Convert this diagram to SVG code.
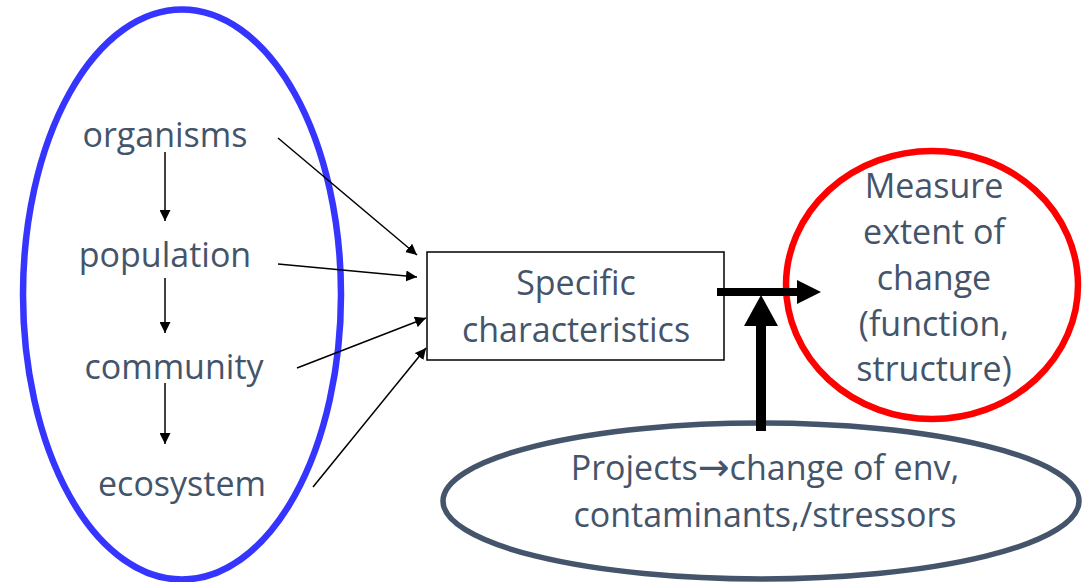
<svg xmlns="http://www.w3.org/2000/svg" width="1091" height="582" viewBox="0 0 1091 582">
<style>
.t{font-family:"Open Sans","Noto Sans",sans-serif;font-size:34px;fill:#44546A;text-anchor:middle}
.arr{font-family:"DejaVu Sans",sans-serif;font-size:38px}
.thin{stroke:#000;stroke-width:1.5;fill:none;marker-end:url(#ah)}
</style>
<defs>
<marker id="ah" markerUnits="userSpaceOnUse" markerWidth="11" markerHeight="11" refX="11" refY="5.5" orient="auto">
<path d="M0,0 L11,5.5 L0,11 z" fill="#000"/>
</marker>
</defs>
<rect width="1091" height="582" fill="#fff"/>
<g id="levels">
<ellipse cx="182" cy="294.5" rx="159" ry="285" fill="none" stroke="#3535FF" stroke-width="6.5"/>
<text class="t" x="165" y="147">organisms</text>
<text class="t" x="165" y="267">population</text>
<text class="t" x="174" y="379">community</text>
<text class="t" x="182" y="496">ecosystem</text>
</g>
<g id="characteristics">
<rect x="427" y="252" width="297" height="108" fill="#fff" stroke="#000" stroke-width="1.5"/>
<text class="t" x="576" y="295">Specific</text>
<text class="t" x="576" y="342">characteristics</text>
</g>
<g id="measure">
<ellipse cx="932" cy="285" rx="146" ry="134" fill="none" stroke="#FF0000" stroke-width="6.5"/>
<text class="t" x="934" y="198">Measure</text>
<text class="t" x="934" y="244">extent of</text>
<text class="t" x="934" y="290">change</text>
<text class="t" x="934" y="336">(function,</text>
<text class="t" x="934" y="381">structure)</text>
</g>
<g id="projects">
<ellipse cx="761" cy="501" rx="318" ry="78" fill="#fff" stroke="#44546A" stroke-width="5.5"/>
<text class="t" x="765" y="480">Projects<tspan class="arr">→</tspan>change of env,</text>
<text class="t" x="765" y="527">contaminants,/stressors</text>
</g>
<g id="connectors">
<line class="thin" x1="165" y1="152" x2="165" y2="221"/>
<line class="thin" x1="165" y1="278" x2="165" y2="333"/>
<line class="thin" x1="165" y1="383" x2="165" y2="444"/>
<line class="thin" x1="278" y1="138" x2="417" y2="255"/>
<line class="thin" x1="278" y1="264" x2="417" y2="277"/>
<line class="thin" x1="297" y1="368" x2="426" y2="318"/>
<line class="thin" x1="313" y1="487" x2="426" y2="348"/>
<line x1="717" y1="292" x2="800" y2="292" stroke="#000" stroke-width="8"/>
<polygon points="797,280 821,292 797,304" fill="#000"/>
<line x1="761" y1="431" x2="761" y2="322" stroke="#000" stroke-width="10"/>
<polygon points="744,326 761,295 778,326" fill="#000"/>
</g>
</svg>
